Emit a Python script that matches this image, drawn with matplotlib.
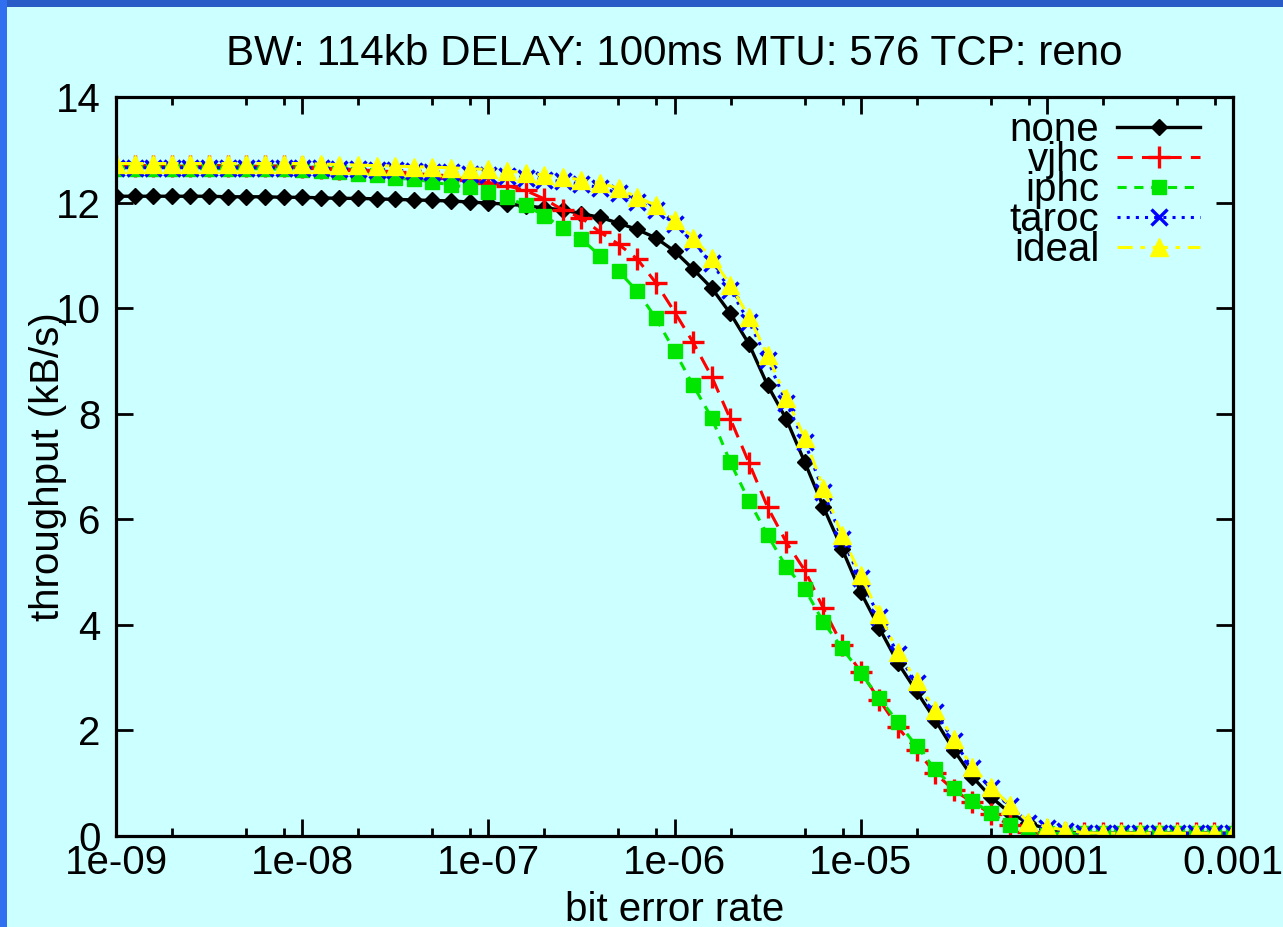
import matplotlib
matplotlib.use("Agg")
import matplotlib.pyplot as plt
import numpy as np
from matplotlib.patches import Rectangle
from matplotlib.ticker import FixedLocator, LogLocator, NullFormatter

plt.rcParams['font.family'] = ['Liberation Sans', 'DejaVu Sans']

# bit error rate, 10 samples per decade from 1e-9 to 1e-3
ber = np.logspace(-9, -3, 61)

none = [12.12, 12.12, 12.12, 12.12, 12.12, 12.12, 12.11, 12.11, 12.11, 12.10, 12.10,
        12.09, 12.08, 12.08, 12.07, 12.06, 12.05, 12.04, 12.03, 12.01, 11.99, 11.97, 11.94,
        11.90, 11.86, 11.79, 11.72, 11.61, 11.49, 11.33, 11.08, 10.74, 10.38, 9.90,
        9.32, 8.54, 7.90, 7.08, 6.23, 5.44, 4.62, 3.94, 3.28, 2.74, 2.20,
        1.63, 1.12, 0.74, 0.44, 0.25, 0.13, 0.08,
        0.05, 0.05, 0.05, 0.05, 0.05, 0.05, 0.05, 0.05, 0.05]
vjhc = [12.70, 12.70, 12.70, 12.70, 12.70, 12.70, 12.70, 12.70, 12.69, 12.69, 12.68,
        12.66, 12.64, 12.62, 12.60, 12.58, 12.55, 12.52, 12.47, 12.43, 12.38, 12.32, 12.23,
        12.07, 11.86, 11.71, 11.44, 11.21, 10.93, 10.48, 9.93, 9.35, 8.70, 7.90,
        7.07, 6.23, 5.57, 5.03, 4.31, 3.62, 3.11, 2.58, 2.06, 1.63, 1.19,
        0.87, 0.64, 0.42, 0.20, 0.08, 0.05, 0.05,
        0.05, 0.05, 0.05, 0.05, 0.05, 0.05, 0.05, 0.05, 0.05]
iphc = [12.64, 12.64, 12.64, 12.64, 12.64, 12.64, 12.64, 12.64, 12.64, 12.63, 12.62,
        12.60, 12.58, 12.55, 12.52, 12.46, 12.44, 12.39, 12.33, 12.29, 12.20, 12.10, 11.95,
        11.75, 11.52, 11.31, 10.99, 10.70, 10.32, 9.81, 9.19, 8.54, 7.92, 7.08,
        6.35, 5.70, 5.10, 4.68, 4.05, 3.56, 3.09, 2.61, 2.16, 1.70, 1.27,
        0.91, 0.66, 0.44, 0.21, 0.06, 0.05, 0.05,
        0.05, 0.05, 0.05, 0.05, 0.05, 0.05, 0.05, 0.05, 0.05]
taroc = [12.66, 12.66, 12.66, 12.66, 12.66, 12.66, 12.66, 12.66, 12.66, 12.66, 12.66,
         12.65, 12.64, 12.63, 12.62, 12.61, 12.60, 12.58, 12.57, 12.55, 12.53, 12.50, 12.47,
         12.43, 12.40, 12.35, 12.28, 12.18, 12.02, 11.86, 11.60, 11.25, 10.86, 10.35,
         9.74, 9.02, 8.21, 7.46, 6.52, 5.63, 4.88, 4.14, 3.44, 2.89, 2.35,
         1.80, 1.28, 0.90, 0.56, 0.25, 0.15, 0.09,
         0.05, 0.05, 0.05, 0.05, 0.05, 0.05, 0.05, 0.05, 0.05]
ideal = [12.74, 12.74, 12.74, 12.74, 12.74, 12.74, 12.74, 12.74, 12.74, 12.74, 12.74,
         12.73, 12.72, 12.71, 12.70, 12.69, 12.68, 12.67, 12.66, 12.64, 12.63, 12.60, 12.56,
         12.52, 12.48, 12.43, 12.37, 12.27, 12.10, 11.95, 11.67, 11.33, 10.95, 10.44,
         9.83, 9.11, 8.30, 7.54, 6.59, 5.70, 4.94, 4.20, 3.49, 2.94, 2.39,
         1.84, 1.31, 0.93, 0.59, 0.27, 0.17, 0.11,
         0.06, 0.05, 0.05, 0.05, 0.05, 0.05, 0.05, 0.05, 0.05]

xtick_vals = [1e-9, 1e-8, 1e-7, 1e-6, 1e-5, 1e-4, 1e-3]
xtick_labels = ["1e-09", "1e-08", "1e-07", "1e-06", "1e-05", "0.0001", "0.001"]
ytick_vals = [0, 2, 4, 6, 8, 10, 12, 14]

BG = "#ccffff"
FS = 29

fig = plt.figure(figsize=(12.83, 9.27), dpi=100, facecolor=BG)
# blue slide frame at top and left
fig.add_artist(Rectangle((0, 1 - 7 / 927), 1, 7 / 927, transform=fig.transFigure,
                         facecolor="#2a5cc8", edgecolor="none", zorder=-1))
fig.add_artist(Rectangle((0, 0), 7 / 1283, 1, transform=fig.transFigure,
                         facecolor="#2f6ff0", edgecolor="none", zorder=-1))

ax = fig.add_axes([116 / 1283, 1 - 836 / 927, (1233 - 116) / 1283, (836 - 97) / 927])
ax.set_facecolor(BG)

ax.plot(ber, none, color="black", lw=2.4, marker="D", ms=8.5, label="none")
ax.plot(ber, vjhc, color="red", lw=2.2, dashes=(5, 3), marker="+", ms=16, mew=2.4,
        label="vjhc")
ax.plot(ber, iphc, color="#00e600", lw=2.2, dashes=(3, 2.5), marker="s", ms=9.5,
        label="iphc")
ax.plot(ber, taroc, color="blue", lw=2.2, dashes=(1, 2), marker="x", ms=12, mew=2.4,
        label="taroc")
ax.plot(ber, ideal, color="yellow", lw=2.2, dashes=(5, 2.5, 1.5, 2.5), marker="^", ms=13,
        label="ideal")

ax.set_xscale("log")
ax.set_xlim(1e-9, 1e-3)
ax.set_ylim(0, 14)
ax.xaxis.set_major_locator(FixedLocator(xtick_vals))
ax.set_xticklabels(xtick_labels)
ax.xaxis.set_minor_locator(LogLocator(base=10, subs=(2, 5, 8)))
ax.xaxis.set_minor_formatter(NullFormatter())
ax.set_yticks(ytick_vals)

for s in ax.spines.values():
    s.set_linewidth(2.3)
ax.tick_params(which="both", direction="in", top=True, right=True, width=2.0)
ax.tick_params(which="major", length=12, labelsize=FS)
ax.tick_params(which="minor", length=6)
ax.tick_params(axis="x", pad=6)
ax.tick_params(axis="y", pad=11)

ax.set_title("BW: 114kb DELAY: 100ms MTU: 576 TCP: reno", fontsize=30.3, pad=23)
ax.set_xlabel("bit error rate", fontsize=FS, labelpad=6)
ax.set_ylabel("throughput (kB/s)", fontsize=FS, labelpad=-8)

ax.legend(loc="upper right", bbox_to_anchor=(1 - 33 / 1117, 1 - 14 / 739),
          frameon=False, markerfirst=False, fontsize=FS, handlelength=2.05,
          handletextpad=0.45, labelspacing=-0.2, borderaxespad=0, borderpad=0)

fig.savefig("out.png", dpi=100, facecolor=BG)
